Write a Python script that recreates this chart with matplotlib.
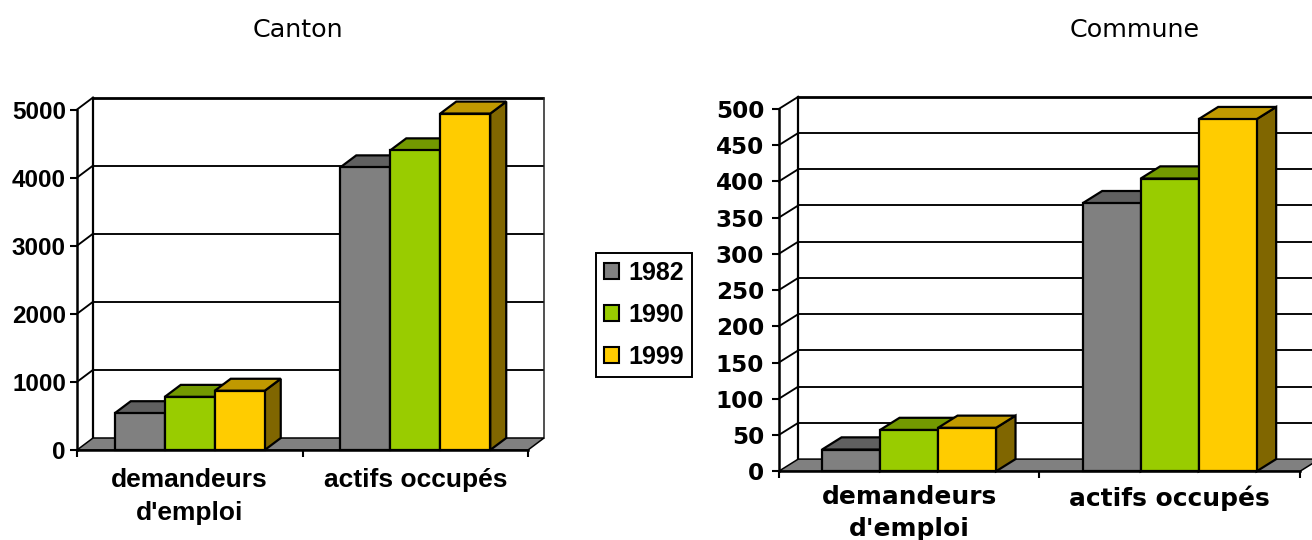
import matplotlib
matplotlib.use("Agg")
import matplotlib.pyplot as plt
from matplotlib.patches import Patch

W, H = 1312, 540
categories = ["demandeurs\nd'emploi", "actifs occupés"]
years = ["1982", "1990", "1999"]

canton_1982 = [540, 4150]
canton_1990 = [780, 4400]
canton_1999 = [870, 4940]
commune_1982 = [30, 370]
commune_1990 = [57, 404]
commune_1999 = [60, 486]

canton_ticks = [0, 1000, 2000, 3000, 4000, 5000]
commune_ticks = [0, 50, 100, 150, 200, 250, 300, 350, 400, 450, 500]

front = ["#808080", "#99CC00", "#FFCC00"]
top = ["#606060", "#739900", "#C09900"]
side = ["#404040", "#4D6600", "#806600"]

plt.rcParams["font.family"] = ["Liberation Sans", "DejaVu Sans"]
fig = plt.figure(figsize=(W / 100, H / 100), dpi=100, facecolor="white")


def chart(left, right, y0, ytop, dx, dy, series, ticks, tsize, csize, title, title_x, cat_pad, ypad, bw, lsp, fam):
    ax = fig.add_axes([left / W, 1 - y0 / H, (right - left) / W, (y0 - ytop) / H])
    ax.set_xlim(-0.5, 1.5)
    ax.set_ylim(0, ticks[-1])
    ax.patch.set_alpha(0)
    ddx = dx / (right - left) * 2
    ddy = dy / (y0 - ytop) * ticks[-1]
    lw = 1.6
    # back wall, side wall
    for t in ticks[1:]:
        ax.plot([-0.5 + ddx, 1.5 + ddx], [t + ddy, t + ddy], color="k", lw=2.0 if t == ticks[-1] else 1.35,
                clip_on=False, zorder=1, solid_capstyle="butt")
        ax.plot([-0.5, -0.5 + ddx], [t, t + ddy], color="k", lw=1.35, clip_on=False, zorder=1)
    ax.plot([-0.5 + ddx] * 2, [ddy, ticks[-1] + ddy], color="k", lw=lw, clip_on=False, zorder=1)
    ax.plot([1.5 + ddx] * 2, [ddy, ticks[-1] + ddy], color="#222222", lw=1.1, clip_on=False, zorder=1)
    # floor
    ax.fill([-0.5, 1.5, 1.5 + ddx, -0.5 + ddx], [0, 0, ddy, ddy], facecolor="#808080", edgecolor="k",
            lw=1.1, clip_on=False, zorder=2)
    # bars
    z = 3
    for i, vals in enumerate(series):
        for c, v in enumerate(vals):
            x0 = c + (i - 1.5) * bw
            x1 = x0 + bw
            ax.fill([x1, x1 + ddx, x1 + ddx, x1], [0, ddy, v + ddy, v], facecolor=side[i], edgecolor="k",
                    lw=lw, clip_on=False, zorder=z)
            ax.fill([x0, x1, x1 + ddx, x0 + ddx], [v, v, v + ddy, v + ddy], facecolor=top[i], edgecolor="k",
                    lw=lw, clip_on=False, zorder=z)
            ax.bar(c + (i - 1) * bw, v, width=bw, color=front[i], edgecolor="k", lw=lw, clip_on=False, zorder=z + 0.5)
        z += 1
    for s in ["top", "right"]:
        ax.spines[s].set_visible(False)
    for s in ["left", "bottom"]:
        ax.spines[s].set_linewidth(1.8)
        ax.spines[s].set_zorder(20)
    ax.set_yticks(ticks)
    ax.set_yticklabels([str(t) for t in ticks], fontsize=tsize, fontweight="bold", family=fam)
    ax.tick_params(axis="y", length=5, width=1.5, pad=ypad)
    ax.set_xticks([-0.5, 0.5, 1.5])
    ax.set_xticklabels([])
    ax.tick_params(axis="x", which="major", length=5, width=1.5)
    ax.set_xticks([0, 1], minor=True)
    ax.set_xticklabels(categories, minor=True, fontsize=csize, fontweight="bold", linespacing=lsp, family=fam)
    ax.tick_params(axis="x", which="minor", length=0, pad=cat_pad)
    fig.text(title_x / W, 1 - 30 / H, title, fontsize=18.3, ha="center", va="center", family="DejaVu Sans")
    return ax


chart(77, 528, 450, 109.5, 16, 12, [canton_1982, canton_1990, canton_1999], canton_ticks,
      17.5, 19, "Canton", 298, 13, 3, 0.2217, 1.45, "Liberation Sans")
chart(778.7, 1300, 471.3, 109, 19.5, 12.2, [commune_1982, commune_1990, commune_1999], commune_ticks,
      16.6, 17.9, "Commune", 1135, 10, 5.5, 0.2225, 1.4, "DejaVu Sans")

handles = [Patch(facecolor=front[i], edgecolor="k", lw=1.5, label=years[i]) for i in range(3)]
fig.legend(handles=handles, loc="center", bbox_to_anchor=(644 / W, 1 - 315 / H),
           prop={"weight": "bold", "size": 18}, handlelength=0.6, handleheight=0.6, handletextpad=0.35,
           labelspacing=0.72, borderpad=0.33, borderaxespad=0, fancybox=False, framealpha=1, edgecolor="k")
fig.legends[0].get_frame().set_linewidth(1.4)

fig.savefig("out.png", dpi=100)
